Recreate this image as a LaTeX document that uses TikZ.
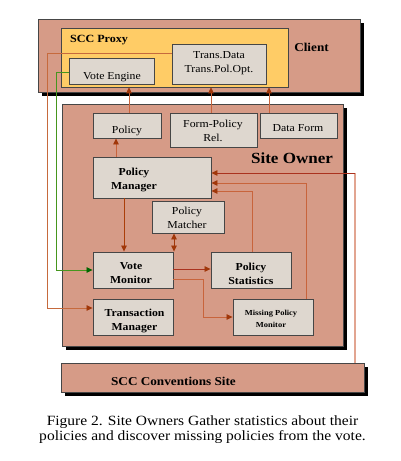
\documentclass[tikz,border=0pt]{standalone}
\usepackage{fontspec}
\setmainfont{Liberation Serif}[FakeStretch=1.1]
\usetikzlibrary{arrows.meta,shadows}
\definecolor{salmon}{RGB}{214,155,135}
\definecolor{boxgray}{RGB}{222,215,207}
\definecolor{proxyyel}{RGB}{255,204,102}
\definecolor{arrdark}{RGB}{160,55,10}
\definecolor{lineor}{RGB}{200,100,60}
\definecolor{linered}{RGB}{170,50,30}
\definecolor{linepink}{RGB}{226,165,145}
\definecolor{greenl}{RGB}{70,150,30}
\definecolor{edgegray}{RGB}{70,70,70}
\tikzset{
  area/.style={draw=edgegray, line width=0.6pt, fill=salmon, inner sep=0pt,
    drop shadow={shadow xshift=4pt, shadow yshift=-4pt, fill=black, opacity=1}},
  proxybox/.style={draw=edgegray, line width=0.6pt, fill=proxyyel, inner sep=0pt},
  box/.style={draw=edgegray, line width=0.9pt, fill=boxgray, inner sep=0pt},
  txt/.style={align=center, inner sep=0pt, font=\fontsize{10.7}{14}\selectfont},
  btxt/.style={align=center, inner sep=0pt, font=\fontsize{10.7}{14}\selectfont\bfseries},
  tip/.style={-{Triangle[length=6pt,width=5.5pt,color=arrdark]}},
  conn/.style={line width=0.8pt}
}
\begin{document}
\begin{tikzpicture}[x=1pt,y=-1pt]
\useasboundingbox (0,0) rectangle (400,461);
\fill[white] (0,0) rectangle (400,461);

% big areas
\node[area, minimum width=322pt, minimum height=73pt] (client) at (199,55.5) {};
\node[proxybox, minimum width=227pt, minimum height=59pt] (proxy) at (174.5,57.5) {};
\node[area, minimum width=281pt, minimum height=242pt] (site) at (202.5,225) {};
\node[area, minimum width=303pt, minimum height=29pt] (conv) at (212.5,377.5) {};

% boxes
\node[box, minimum width=85pt, minimum height=26pt] (vengine) at (111.5,71) {};
\node[box, minimum width=94pt, minimum height=40pt] (tdata) at (219,64) {};
\node[box, minimum width=68pt, minimum height=25pt] (policy) at (127,125.5) {};
\node[box, minimum width=87pt, minimum height=34pt] (formpol) at (213.5,130) {};
\node[box, minimum width=77pt, minimum height=25pt] (dform) at (298.5,125.5) {};
\node[box, minimum width=118pt, minimum height=41pt] (pmgr) at (152,177.5) {};
\node[box, minimum width=72pt, minimum height=32pt] (pmatch) at (188,217) {};
\node[box, minimum width=80pt, minimum height=36pt] (vmon) at (133,270) {};
\node[box, minimum width=80pt, minimum height=36pt] (pstat) at (251,270) {};
\node[box, minimum width=80pt, minimum height=36pt] (tmgr) at (133,317) {};
\node[box, minimum width=80pt, minimum height=36pt] (mpm) at (273,317) {};

% texts
\node[btxt, font=\fontsize{11}{13}\selectfont\bfseries] (tproxy) at (99,40) {SCC Proxy};
\node[btxt, font=\fontsize{12}{14}\selectfont\bfseries] (tclient) at (311.5,47) {Client};
\node[btxt, font=\fontsize{15.5}{18}\selectfont\bfseries] (tsite) at (292,158) {Site Owner};
\node[btxt, font=\fontsize{12}{14}\selectfont\bfseries] (tconv) at (173.5,381) {SCC Conventions Site};
\node[txt] (tvengine) at (112,77) {Vote Engine};
\node[txt] (ttdata) at (219,63) {Trans.Data\\Trans.Pol.Opt.};
\node[txt] (tpolicy) at (127,131) {Policy};
\node[txt] (tformpol) at (213,131) {Form-Policy\\Rel.};
\node[txt] (tdform) at (298,128) {Data Form};
\node[btxt] (tpmgr) at (134,180) {Policy\\Manager};
\node[txt] (tpmatch) at (187,218) {Policy\\Matcher};
\node[btxt] (tvmon) at (131,273) {Vote\\Monitor};
\node[btxt] (tpstat) at (251,274) {Policy\\Statistics};
\node[btxt] (ttmgr) at (134.5,320.5) {Transaction\\Manager};
\node[btxt, font=\fontsize{7.7}{12}\selectfont\bfseries] (tmpm) at (271,319) {Missing Policy\\Monitor};

% caption
\node[align=center, inner sep=0pt, font=\fontsize{14.1}{15.5}\selectfont] (cap) at (202.5,429.5)
  {Figure 2. Site Owners Gather statistics about their\\policies and discover missing policies from the vote.};

% connectors up to proxy
\draw[conn, draw=lineor, tip] (policy.north -| 129,0) -- (proxy.south -| 129,0);
\draw[conn, draw=lineor, tip] (formpol.north -| 211,0) -- (proxy.south -| 211,0);
\draw[conn, draw=lineor, tip] (dform.north -| 269,0) -- (proxy.south -| 269,0);

% policy manager to policy
\draw[conn, draw=lineor, tip] (pmgr.north -| 116,0) -- (policy.south -| 116,0);
% policy manager to vote monitor
\draw[conn, draw=arrdark!90!orange, tip] (pmgr.south -| 124,0) -- (vmon.north -| 124,0);
% policy matcher <-> vote monitor
\draw[conn, draw=arrdark, {Triangle[length=6pt,width=5.5pt,color=arrdark]}-{Triangle[length=6pt,width=5.5pt,color=arrdark]}]
  (pmatch.south -| 174,0) -- (vmon.north -| 174,0);
% vote monitor -> policy statistics
\draw[conn, draw=linered, tip] (vmon.east |- 0,269) -- (pstat.west |- 0,269);
% vote monitor -> missing policy monitor
\coordinate (vm1) at (203,279);
\coordinate (vm2) at (203,317);
\draw[conn, draw=lineor, tip] (vmon.east |- vm1) -- (vm1) -- (vm2) -- (mpm.west |- vm2);
% policy statistics -> policy manager
\coordinate (ps1) at (252,191);
\draw[conn, draw=lineor, tip] (pstat.north -| ps1) -- (ps1) -- (pmgr.east |- ps1);
% missing policy monitor -> policy manager
\coordinate (mp1) at (306,183);
\draw[conn, draw=lineor, tip] (mpm.north -| mp1) -- (mp1) -- (pmgr.east |- mp1);
% conventions -> policy manager
\coordinate (cv1) at (355,173);
\draw[line width=1.6pt, draw=linepink] (conv.north -| cv1) -- (cv1);
\draw[conn, draw=linered, tip] (cv1) -- (pmgr.east |- cv1);
% vote engine -> vote monitor (green)
\coordinate (ve1) at (56,72);
\coordinate (ve2) at (56,270);
\draw[conn, draw=greenl, -{Triangle[length=6pt,width=5.5pt,color=green!40!black]}]
  (vengine.west |- ve1) -- (ve1) -- (ve2) -- (vmon.west |- ve2);
% trans data -> transaction manager
\coordinate (td1) at (47,53);
\coordinate (td2) at (47,308);
\draw[conn, draw=lineor!80!brown, tip] (tdata.west |- td1) -- (td1) -- (td2) -- (tmgr.west |- td2);
\end{tikzpicture}
\end{document}
